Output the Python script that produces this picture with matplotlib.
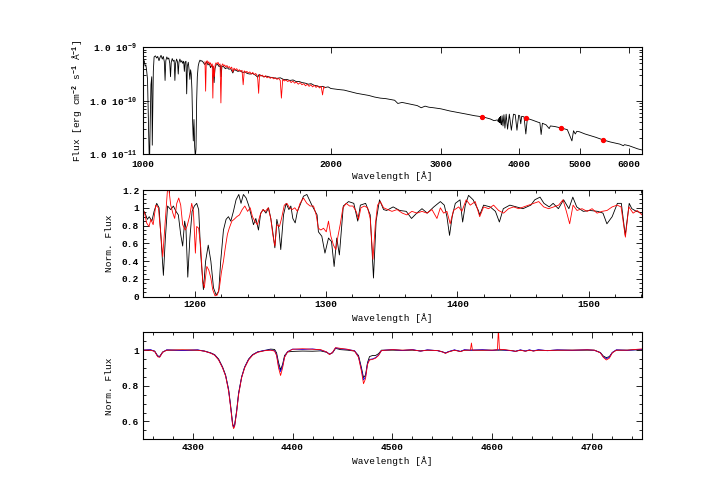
import numpy as np
import matplotlib
matplotlib.use("Agg")
import matplotlib.pyplot as plt
from matplotlib.ticker import FixedLocator, MultipleLocator, NullLocator, LogLocator, FuncFormatter

plt.rcParams['font.family'] = ['Liberation Mono', 'DejaVu Sans Mono']
plt.rcParams['font.weight'] = 'bold'
plt.rcParams['mathtext.fontset'] = 'custom'
plt.rcParams['mathtext.rm'] = 'Liberation Mono:bold'
plt.rcParams['mathtext.bf'] = 'Liberation Mono:bold'
plt.rcParams['mathtext.default'] = 'bf'

# ---- top panel: flux distribution (log10 of flux, erg/cm2/s/A) ----
sed_wave = [1000, 1003, 1006, 1009, 1012, 1015, 1018, 1021, 1024, 1026, 1028, 1031, 1034, 1036, 1038, 1040,
            1043, 1048, 1053, 1057, 1062, 1066, 1070, 1075, 1079, 1083, 1086, 1089, 1093, 1097, 1101, 1105,
            1108, 1111, 1115, 1119, 1123, 1126, 1129, 1133, 1137, 1140, 1143, 1147, 1151, 1155, 1159, 1163,
            1166, 1169, 1173, 1176, 1179, 1183, 1186, 1190, 1193, 1196, 1199, 1202, 1205, 1208, 1211, 1214,
            1217, 1220, 1223, 1227, 1231, 1235, 1239, 1243, 1250, 1256, 1261, 1266, 1272, 1278, 1284, 1290,
            1296, 1301, 1305, 1310, 1318, 1325, 1331, 1335, 1339, 1347, 1356, 1365, 1374, 1383, 1394, 1400,
            1410, 1420, 1432, 1445, 1458, 1470, 1485, 1500, 1515, 1528, 1535, 1550, 1565, 1580, 1600, 1620,
            1640, 1660, 1680, 1700, 1720, 1740, 1760, 1780, 1800, 1820, 1840, 1860, 1880, 1900, 1920, 1940,
            1960, 1980, 2000, 2030, 2060, 2100, 2150, 2200, 2250, 2300, 2350, 2400, 2450, 2500, 2530, 2560,
            2600, 2650, 2700, 2750, 2790, 2830, 2870, 2920, 3000, 3100, 3200, 3300, 3400, 3500, 3600, 3646,
            3660, 3680, 3700, 3705, 3712, 3718, 3724, 3730, 3736, 3742, 3750, 3758, 3771, 3784, 3798, 3815,
            3835, 3860, 3889, 3920, 3945, 3970, 3995, 4010, 4026, 4040, 4075, 4102, 4125, 4200, 4290, 4320,
            4340, 4360, 4420, 4471, 4490, 4560, 4600, 4680, 4780, 4861, 4890, 4921, 4950, 5000, 5100, 5200,
            5300, 5450, 5600, 5800, 5876, 5900, 6000, 6200, 6300]
sed_logf = [-9.21, -9.28, -9.25, -9.35, -9.33, -9.45, -9.60, -10.30, -10.98, -11.05, -10.45, -9.70, -9.55,
            -10.83, -10.20, -9.45, -9.18, -9.16, -9.20, -9.17, -9.25, -9.19, -9.15, -9.22, -9.17, -9.27,
            -9.62, -9.25, -9.18, -9.22, -9.20, -9.30, -9.55, -9.28, -9.21, -9.26, -9.24, -9.62, -9.30, -9.22,
            -9.27, -9.50, -9.28, -9.22, -9.28, -9.25, -9.30, -9.26, -9.45, -9.28, -9.26, -9.87, -9.35, -9.28,
            -9.40, -9.60, -9.42, -9.50, -9.80, -10.40, -10.75, -10.35, -10.85, -11.05, -10.90, -10.00, -9.55,
            -9.35, -9.28, -9.24, -9.26, -9.25, -9.28, -9.32, -9.30, -9.27, -9.33, -9.30, -9.38, -9.33, -9.40,
            -9.66, -9.40, -9.33, -9.32, -9.36, -9.34, -9.55, -9.35, -9.36, -9.40, -9.38, -9.41, -9.40, -9.48,
            -9.42, -9.43, -9.45, -9.44, -9.47, -9.46, -9.49, -9.50, -9.49, -9.52, -9.56, -9.51, -9.53, -9.55,
            -9.54, -9.56, -9.57, -9.58, -9.57, -9.60, -9.60, -9.62, -9.61, -9.64, -9.64, -9.66, -9.67, -9.69,
            -9.68, -9.71, -9.72, -9.74, -9.73, -9.75, -9.74, -9.77, -9.78, -9.79, -9.80, -9.83, -9.86, -9.88,
            -9.90, -9.93, -9.95, -9.96, -9.98, -9.99, -10.05, -10.03, -10.05, -10.07, -10.09, -10.13, -10.10,
            -10.12, -10.13, -10.15, -10.19, -10.22, -10.25, -10.28, -10.30, -10.34, -10.37, -10.37, -10.36,
            -10.36, -10.39, -10.33, -10.40, -10.31, -10.41, -10.29, -10.43, -10.45, -10.28, -10.47, -10.26,
            -10.51, -10.25, -10.53, -10.25, -10.55, -10.25, -10.26, -10.55, -10.27, -10.28, -10.43, -10.29,
            -10.30, -10.62, -10.33, -10.36, -10.40, -10.41, -10.63, -10.42, -10.45, -10.52, -10.47, -10.48,
            -10.49, -10.51, -10.54, -10.75, -10.56, -10.62, -10.57, -10.58, -10.62, -10.65, -10.68, -10.73,
            -10.77, -10.81, -10.84, -10.82, -10.84, -10.90, -10.92]

uv_wave = [1258, 1261, 1264, 1268, 1272, 1276, 1280, 1284, 1288, 1292, 1295, 1298, 1302, 1306, 1310, 1315,
           1320, 1325, 1330, 1334, 1338, 1343, 1348, 1353, 1358, 1364, 1370, 1376, 1382, 1388, 1394, 1400,
           1407, 1414, 1421, 1428, 1435, 1442, 1448, 1454, 1461, 1468, 1476, 1484, 1492, 1500, 1508, 1516,
           1524, 1528, 1533, 1538, 1546, 1554, 1563, 1572, 1581, 1590, 1600, 1610, 1620, 1630, 1640, 1650,
           1660, 1667, 1675, 1685, 1695, 1706, 1717, 1728, 1739, 1750, 1762, 1774, 1786, 1798, 1810, 1822,
           1834, 1846, 1858, 1870, 1882, 1894, 1906, 1918, 1930, 1940, 1948, 1955]
uv_logf = [-9.27, -9.82, -9.28, -9.25, -9.30, -9.27, -9.32, -9.29, -9.36, -9.31, -9.95, -9.35, -9.55, -9.33,
           -9.29, -9.31, -9.28, -9.33, -9.31, -10.04, -9.34, -9.31, -9.35, -9.33, -9.37, -9.34, -9.38, -9.36,
           -9.40, -9.37, -9.46, -9.39, -9.42, -9.40, -9.44, -9.42, -9.45, -9.43, -9.70, -9.44, -9.47, -9.45,
           -9.48, -9.46, -9.50, -9.47, -9.51, -9.49, -9.52, -9.60, -9.86, -9.51, -9.54, -9.52, -9.56, -9.53,
           -9.57, -9.55, -9.58, -9.56, -9.59, -9.57, -9.60, -9.58, -9.62, -9.95, -9.60, -9.63, -9.61, -9.64,
           -9.62, -9.66, -9.63, -9.67, -9.65, -9.69, -9.66, -9.70, -9.68, -9.72, -9.69, -9.73, -9.70, -9.74,
           -9.71, -9.75, -9.72, -9.76, -9.73, -9.89, -9.74, -9.76]

phot_wave = [3490, 4110, 4665, 5450]
phot_logf = [-10.30, -10.33, -10.50, -10.73]

# ---- middle panel: normalised UV spectrum ----
uvn_model_wave = [1160, 1161.8, 1163.6, 1165, 1167, 1168.7, 1170.7, 1172.5, 1174, 1175.8, 1177.3, 1179,
                  1181.4, 1183.4, 1185.4, 1187.2, 1189, 1190.5, 1192, 1193, 1194.4, 1196, 1197.7, 1199.4,
                  1201.2, 1202.7, 1204.3, 1206.3, 1208, 1210, 1212, 1214, 1216, 1218, 1219.5, 1221.6, 1223.6,
                  1225.4, 1227.2, 1229.2, 1231.2, 1233.3, 1235, 1236.8, 1238.9, 1241, 1242.7, 1244.5, 1246.3,
                  1248.3, 1250, 1252, 1254, 1256, 1257.7, 1259.2, 1260.8, 1262.3, 1263.8, 1265.3, 1267.4,
                  1269.4, 1271.5, 1273, 1274.5, 1276.3, 1278, 1280, 1282.6, 1285.2, 1289, 1293, 1294, 1296.6,
                  1299, 1301.7, 1304, 1306, 1308, 1310, 1313, 1317, 1321, 1324, 1326, 1330, 1333.5, 1336, 1338,
                  1340.6, 1343.7, 1346, 1351, 1356, 1361, 1365, 1369, 1373, 1377, 1382, 1387, 1390, 1392, 1394,
                  1396, 1398.4, 1402, 1404, 1406, 1408.5, 1412, 1416, 1417, 1420, 1425, 1429, 1432, 1435, 1440,
                  1445, 1450, 1456, 1459, 1463, 1466, 1470, 1473, 1477, 1481, 1485, 1488, 1491, 1496, 1501,
                  1507, 1511, 1514, 1518, 1522, 1525, 1528, 1531, 1533, 1536.5, 1541]
uvn_model_flux = [0.98, 0.94, 0.87, 0.90, 0.85, 0.96, 1.05, 1.00, 0.66, 0.24, 0.66, 1.02, 0.98, 1.02, 0.96,
                  0.92, 0.70, 0.57, 0.85, 0.77, 0.22, 0.66, 0.96, 1.02, 1.05, 0.98, 0.47, 0.08, 0.40, 0.58,
                  0.40, 0.10, 0.02, 0.06, 0.40, 0.75, 0.87, 0.90, 0.85, 0.96, 1.09, 1.15, 1.05, 1.15, 1.11,
                  1.02, 0.92, 0.81, 0.88, 0.75, 0.94, 0.98, 0.94, 1.00, 0.88, 0.73, 0.55, 0.87, 0.77, 0.53,
                  0.92, 1.05, 0.98, 1.02, 0.88, 0.83, 0.96, 1.03, 1.13, 1.15, 1.03, 0.92, 0.73, 0.68, 0.49,
                  0.66, 0.62, 0.34, 0.66, 0.47, 1.02, 1.07, 1.05, 0.85, 1.03, 1.05, 0.92, 0.21, 0.85, 1.09,
                  0.98, 0.97, 1.01, 0.97, 0.96, 0.88, 0.94, 0.99, 0.94, 1.01, 1.07, 1.03, 0.90, 0.69, 0.90,
                  1.05, 1.09, 0.84, 1.03, 1.14, 1.09, 0.97, 0.92, 1.03, 1.01, 0.96, 0.84, 0.99, 1.03, 1.01,
                  0.99, 1.03, 1.09, 1.12, 1.05, 1.01, 1.05, 0.99, 1.09, 0.99, 1.12, 1.01, 0.96, 0.97, 0.96,
                  0.94, 0.82, 0.90, 1.05, 1.05, 0.69, 1.05, 0.99, 0.96, 0.94]

uvn_obs_wave = [1160, 1161.8, 1163, 1164.8, 1166.3, 1168, 1170, 1172, 1173.7, 1175.3, 1177, 1178.8, 1179.8,
                1181.4, 1183, 1184.4, 1186, 1187.5, 1189, 1190.5, 1192.5, 1194, 1196, 1197.4, 1198.7, 1200.2,
                1201.2, 1202.7, 1204.3, 1205.8, 1207, 1208.9, 1210.4, 1212, 1213.4, 1215.2, 1217, 1218.5,
                1220, 1221.6, 1223, 1224.6, 1226, 1228, 1229.7, 1231.8, 1233.8, 1235.9, 1237.9, 1240, 1242,
                1243.7, 1245.5, 1247.5, 1249.6, 1251.6, 1253.6, 1255.7, 1257.7, 1259.2, 1260.8, 1262.3,
                1264.3, 1265.9, 1268, 1270, 1272, 1274, 1276, 1278, 1280, 1282.6, 1285.2, 1287.7, 1290.3,
                1292.3, 1294, 1295.9, 1297.9, 1300, 1301.7, 1303.5, 1305.5, 1307.3, 1308.9, 1310.6, 1312.7,
                1315.2, 1317.8, 1320.3, 1322.8, 1324.6, 1326.4, 1329, 1331.5, 1333.5, 1335.6, 1337.4, 1339.1,
                1341.2, 1343.7, 1346.8, 1350.1, 1354, 1358, 1361.5, 1365.3, 1369.2, 1373, 1376.8, 1380.6,
                1384.4, 1387, 1389.5, 1392, 1394.5, 1397, 1401, 1403.4, 1406.7, 1409.8, 1413.6, 1417, 1420,
                1423.8, 1427.6, 1431.4, 1435.2, 1439, 1442.9, 1446.7, 1450.5, 1454.3, 1458.1, 1462, 1465.8,
                1469.6, 1473.4, 1477.2, 1480.5, 1483.1, 1485.6, 1488.2, 1491.2, 1495, 1498.9, 1502.7, 1506.5,
                1510.3, 1514.1, 1518, 1521.8, 1524.8, 1528.1, 1530.7, 1534, 1537, 1540.8]
uvn_obs_flux = [1.00, 0.92, 0.83, 0.79, 0.87, 0.81, 1.03, 1.00, 0.73, 0.45, 0.81, 1.18, 1.23, 1.03, 0.94,
                0.88, 1.05, 1.11, 1.03, 0.81, 0.75, 0.80, 0.92, 1.05, 0.96, 0.49, 0.79, 0.77, 0.55, 0.17,
                0.10, 0.34, 0.30, 0.21, 0.08, 0.01, 0.02, 0.10, 0.27, 0.40, 0.55, 0.70, 0.77, 0.85, 0.87,
                0.90, 0.92, 0.98, 1.02, 0.96, 1.00, 0.90, 0.85, 0.81, 0.92, 0.98, 0.96, 1.00, 0.88, 0.70,
                0.57, 0.81, 0.79, 0.88, 1.03, 1.05, 1.00, 0.98, 1.00, 0.96, 1.05, 1.11, 1.05, 1.02, 1.02,
                0.92, 0.77, 0.75, 0.77, 0.73, 0.85, 0.68, 0.58, 0.53, 0.68, 0.81, 1.00, 1.05, 1.02, 1.02,
                0.96, 0.87, 1.00, 1.02, 1.00, 0.88, 0.42, 0.81, 1.03, 1.07, 1.00, 0.98, 0.96, 0.98, 0.94,
                0.92, 0.96, 0.94, 0.96, 0.94, 0.98, 0.88, 1.00, 0.94, 0.96, 0.82, 0.97, 1.01, 0.96, 1.09,
                1.03, 1.07, 0.90, 1.01, 0.99, 1.03, 0.97, 0.94, 0.99, 1.01, 0.99, 1.01, 1.03, 1.05, 1.07,
                1.01, 0.99, 1.01, 1.03, 1.09, 0.96, 0.82, 1.03, 0.97, 0.99, 0.96, 0.99, 0.94, 0.96, 0.97,
                1.01, 1.03, 1.01, 0.67, 1.01, 0.94, 0.97, 0.92]

# ---- bottom panel: optical spectrum around H gamma ----
opt_wave = [4250, 4258, 4262, 4265, 4267, 4270, 4274, 4290, 4305, 4312, 4318, 4322, 4326, 4330, 4333, 4336,
            4338, 4340, 4341, 4342, 4344, 4346, 4349, 4352, 4356, 4360, 4365, 4372, 4378, 4382, 4384, 4386,
            4388, 4390, 4392, 4395, 4400, 4410, 4420, 4428, 4434, 4437, 4440, 4443, 4448, 4455, 4462, 4466,
            4469, 4471, 4473, 4475, 4477, 4480, 4483, 4486, 4489, 4500, 4510, 4520, 4528, 4535, 4545, 4550,
            4553, 4556, 4562, 4568, 4572, 4578, 4579, 4580, 4590, 4600, 4605, 4606, 4607, 4612, 4620, 4623,
            4628, 4633, 4637, 4641, 4646, 4655, 4665, 4680, 4695, 4702, 4708, 4711, 4714, 4717, 4720, 4724,
            4735, 4745, 4750]
opt_model_black = [1.000, 1.000, 0.995, 0.968, 0.965, 0.990, 1.000, 1.000, 1.000, 0.995, 0.985, 0.975,
                   0.950, 0.905, 0.860, 0.780, 0.690, 0.590, 0.570, 0.580, 0.660, 0.760, 0.850, 0.905,
                   0.950, 0.975, 0.990, 0.998, 1.006, 1.004, 0.985, 0.930, 0.890, 0.920, 0.970, 0.990,
                   0.993, 0.995, 0.994, 0.996, 0.988, 0.978, 0.985, 1.010, 1.003, 1.000, 0.995, 0.970,
                   0.900, 0.846, 0.860, 0.930, 0.964, 0.970, 0.970, 0.980, 1.000, 1.000, 0.999, 1.000,
                   0.996, 1.000, 0.998, 0.991, 0.984, 0.991, 1.000, 0.993, 1.000, 1.000, 1.000, 1.000,
                   1.000, 1.000, 1.000, 1.000, 1.000, 1.000, 0.997, 0.994, 1.000, 0.995, 1.000, 0.996,
                   1.000, 0.998, 1.000, 1.000, 1.000, 1.000, 0.987, 0.967, 0.958, 0.964, 0.987, 1.000,
                   1.000, 1.002, 1.003]
opt_model_blue = [1.000, 1.003, 0.993, 0.966, 0.962, 0.988, 1.002, 0.998, 1.002, 0.994, 0.984, 0.973,
                  0.947, 0.902, 0.857, 0.775, 0.684, 0.583, 0.566, 0.576, 0.654, 0.755, 0.847, 0.903,
                  0.948, 0.973, 0.990, 0.999, 1.001, 0.997, 0.975, 0.910, 0.880, 0.910, 0.962, 0.992,
                  1.006, 1.004, 1.007, 1.001, 0.990, 0.977, 0.987, 1.013, 1.008, 1.004, 0.997, 0.963,
                  0.890, 0.833, 0.850, 0.925, 0.948, 0.951, 0.958, 0.972, 0.998, 1.004, 0.998, 1.004,
                  0.994, 1.002, 0.997, 0.990, 0.984, 0.992, 1.002, 0.993, 1.003, 0.999, 1.001, 1.000,
                  1.003, 0.998, 1.003, 1.001, 1.004, 1.001, 0.996, 0.993, 1.002, 0.995, 1.002, 0.996,
                  1.003, 0.997, 1.002, 0.999, 1.003, 0.999, 0.986, 0.962, 0.952, 0.960, 0.987, 1.002,
                  0.999, 1.003, 1.004]
opt_obs_red = [1.000, 1.000, 0.993, 0.963, 0.960, 0.988, 1.000, 1.002, 1.000, 0.994, 0.983, 0.972, 0.945,
               0.900, 0.855, 0.770, 0.680, 0.580, 0.560, 0.572, 0.650, 0.750, 0.845, 0.900, 0.945, 0.972,
               0.988, 0.997, 1.000, 0.995, 0.970, 0.900, 0.858, 0.900, 0.960, 0.990, 1.005, 1.008, 1.005,
               1.003, 0.990, 0.975, 0.988, 1.014, 1.010, 1.005, 0.995, 0.960, 0.880, 0.812, 0.840, 0.920,
               0.945, 0.948, 0.955, 0.970, 0.998, 1.003, 1.000, 1.002, 0.995, 1.000, 0.998, 0.990, 0.982,
               0.990, 1.000, 0.992, 1.000, 1.000, 1.040, 1.000, 1.000, 1.000, 1.002, 1.120, 1.005, 1.003,
               0.997, 0.993, 1.000, 0.994, 1.000, 0.995, 1.000, 0.998, 1.000, 1.000, 1.002, 1.000, 0.985,
               0.960, 0.945, 0.955, 0.985, 1.000, 1.000, 1.005, 1.007]

fs = 6.8
fig = plt.figure(figsize=(7.07, 4.99), dpi=100)
left, width = 0.2018, 0.7067
ax1 = fig.add_axes([left, 0.6908, width, 0.2144])
ax2 = fig.add_axes([left, 0.4054, width, 0.2138])
ax3 = fig.add_axes([left, 0.1196, width, 0.2144])


def style(ax):
    for s in ax.spines.values():
        s.set_linewidth(0.8)
    ax.tick_params(which='both', direction='in', top=True, right=True, labelsize=fs, width=0.6, pad=2.5)
    ax.tick_params(which='major', length=4)
    ax.tick_params(which='minor', length=2)


gfmt = FuncFormatter(lambda v, p: '%g' % v)

# top
ax1.plot(sed_wave, 10.0 ** np.array(sed_logf), color='black', lw=0.6)
ax1.plot(uv_wave, 10.0 ** np.array(uv_logf), color='red', lw=0.6)
ax1.plot(phot_wave, 10.0 ** np.array(phot_logf), 'o', color='red', ms=2.8, mec='red')
ax1.set_xscale('log')
ax1.set_yscale('log')
ax1.set_xlim(1000, 6300)
ax1.set_ylim(1e-11, 1e-9)
ax1.xaxis.set_major_locator(FixedLocator([1000, 2000, 3000, 4000, 5000, 6000]))
ax1.xaxis.set_minor_locator(NullLocator())
ax1.xaxis.set_major_formatter(gfmt)
ax1.yaxis.set_major_locator(FixedLocator([1e-11, 1e-10, 1e-9]))
ax1.yaxis.set_minor_locator(LogLocator(base=10, subs=np.arange(2, 10)))
ax1.yaxis.set_major_formatter(FuncFormatter(lambda v, p: '1.0 10$^{%d}$' % round(np.log10(v))))
ax1.yaxis.set_minor_formatter(FuncFormatter(lambda v, p: ''))
style(ax1)
ax1.tick_params(axis='x', which='major', pad=4)
ax1.tick_params(axis='y', which='major', pad=4)
ax1.set_xlabel('Wavelength [Å]', fontsize=fs, labelpad=2)
ax1.set_ylabel('Flux [erg cm$^{-2}$ s$^{-1}$ Å$^{-1}$]', fontsize=fs, labelpad=3)

# middle
ax2.plot(uvn_model_wave, uvn_model_flux, color='black', lw=0.6)
ax2.plot(uvn_obs_wave, uvn_obs_flux, color='red', lw=0.6)
ax2.set_xlim(1160, 1541)
ax2.set_ylim(0, 1.2)
ax2.xaxis.set_major_locator(MultipleLocator(100))
ax2.xaxis.set_minor_locator(MultipleLocator(20))
ax2.yaxis.set_major_locator(MultipleLocator(0.2))
ax2.yaxis.set_minor_locator(MultipleLocator(0.05))
ax2.xaxis.set_major_formatter(gfmt)
ax2.yaxis.set_major_formatter(gfmt)
style(ax2)
ax2.set_xlabel('Wavelength [Å]', fontsize=fs, labelpad=3)
ax2.set_ylabel('Norm. Flux', fontsize=fs, labelpad=6)

# bottom
ax3.plot(opt_wave, opt_model_black, color='black', lw=0.6)
ax3.plot(opt_wave, opt_model_blue, color='blue', lw=0.6)
ax3.plot(opt_wave, opt_obs_red, color='red', lw=0.6)
ax3.set_xlim(4250, 4750)
ax3.set_ylim(0.5, 1.1)
ax3.xaxis.set_major_locator(MultipleLocator(100))
ax3.xaxis.set_minor_locator(MultipleLocator(20))
ax3.yaxis.set_major_locator(FixedLocator([0.6, 0.8, 1.0]))
ax3.yaxis.set_minor_locator(MultipleLocator(0.05))
ax3.xaxis.set_major_formatter(gfmt)
ax3.yaxis.set_major_formatter(gfmt)
style(ax3)
ax3.set_xlabel('Wavelength [Å]', fontsize=fs, labelpad=3)
ax3.set_ylabel('Norm. Flux', fontsize=fs, labelpad=6)

fig.savefig('out.png', dpi=100)
